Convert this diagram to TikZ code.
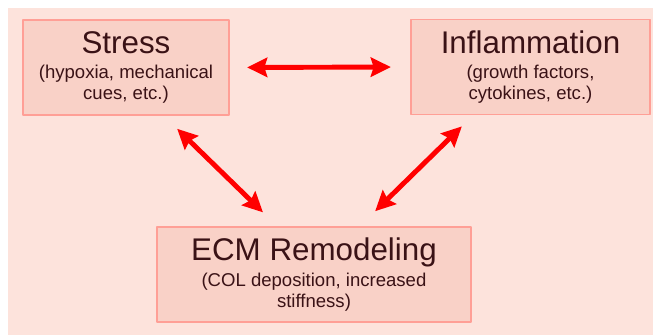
\documentclass[tikz,border=0pt]{standalone}
\usepackage{fontspec}
\setmainfont{Liberation Sans}
\usepackage{tikz}
\usetikzlibrary{calc}
\usetikzlibrary{arrows.meta}

\definecolor{bgpink}{HTML}{FDE3DC}
\definecolor{boxfill}{HTML}{F9D1C7}
\definecolor{boxline}{HTML}{FF9F96}
\definecolor{textdark}{HTML}{3A1216}
\newcommand{\boxtitle}{\fontsize{22.3}{26}\selectfont}

\begin{document}
\begin{tikzpicture}[line cap = round, line join = round, >={Stealth[length=0.5cm,width=0.48cm,inset=0.07cm]}]
\tikzstyle{factor}=[draw=boxline, fill=boxfill, line width=1.4pt, align=center, text=textdark, font=\fontsize{13.2}{15}\selectfont, minimum height=2.375cm, inner sep=0pt]
\tikzstyle{link}=[line width=3.5pt, red, <->, line cap=butt]
\useasboundingbox (0,0) rectangle (16.325,8.375);
\fill[bgpink] (0.2,0) rectangle (16.325,8.175);
\node[factor, minimum width=5.15cm] (stress) at (3.15,6.6875) {{\boxtitle Stress}\\[3pt](hypoxia, mechanical\\cues, etc.)};
\node[factor, minimum width=5.975cm] (inflam) at (13.2625,6.7) {{\boxtitle Inflammation}\\[3pt](growth factors,\\cytokines, etc.)};
\node[factor, minimum width=7.85cm] (ecm) at (7.85,1.5125) {{\boxtitle ECM Remodeling}\\[3pt](COL deposition, increased\\stiffness)};

\draw[link, shorten <=0.43cm, shorten >=0.48cm] (stress.east) -- (inflam.west);
\draw[link, shorten <=0.46cm, shorten >=0.49cm] ([xshift=0.95cm]stress.south) -- ([xshift=-0.925cm]ecm.north);
\draw[link, shorten <=0.53cm, shorten >=0.39cm] ([xshift=1.15cm]ecm.north) -- ([xshift=-1.4375cm]inflam.south);
\end{tikzpicture}
\end{document}
